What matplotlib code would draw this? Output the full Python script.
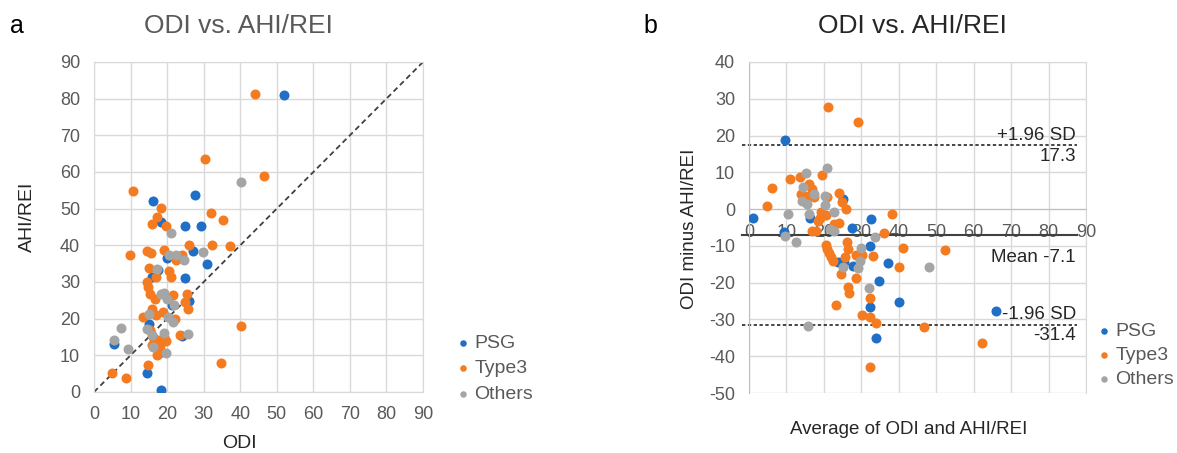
import matplotlib

matplotlib.use("Agg")

import matplotlib.pyplot as plt

plt.rcParams["font.family"] = ["Liberation Sans", "DejaVu Sans"]
plt.rcParams["axes.unicode_minus"] = False

BLUE = "#1f6fc6"
ORANGE = "#f47b20"
GRAY = "#a5a5a5"
GRID = "#d9d9d9"
TICK = "#595959"

# panel a: ODI (x) vs AHI/REI (y)
psg_odi = [51.9, 27.5, 16.2, 18.4, 24.9, 29.4, 27.0, 30.8, 20.1, 24.9, 15.8, 17.6,
           26.1, 21.3, 15.0, 24.0, 5.6, 14.6, 18.4, 17.6]
psg_ahi = [81.1, 53.7, 52.1, 46.4, 45.2, 45.2, 38.5, 35.0, 36.5, 31.1, 31.5, 33.2,
           24.8, 23.6, 18.5, 15.2, 13.2, 5.2, 0.6, 10.3]
type3_odi = [44.0, 30.3, 46.4, 10.8, 18.2, 17.2, 15.9, 19.7, 31.9, 35.4, 26.1, 32.2,
             37.3, 9.9, 14.4, 15.6, 19.2, 22.4, 24.0, 15.1, 16.9, 20.5, 21.2, 14.6,
             14.9, 15.3, 16.7, 21.5, 25.4, 25.0, 25.8, 15.8, 17.0, 18.8, 13.3, 22.1,
             40.1, 15.4, 23.5, 16.2, 17.6, 19.7, 15.9, 18.1, 17.2, 14.7, 34.8, 5.0,
             8.7, 19.2, 18.6]
type3_ahi = [81.4, 63.6, 58.8, 54.7, 50.3, 47.7, 45.8, 45.3, 48.9, 47.0, 40.2, 40.1,
             39.7, 37.3, 38.5, 38.0, 38.8, 35.9, 37.3, 33.9, 31.4, 33.0, 31.4, 30.0,
             28.6, 26.8, 25.5, 26.5, 26.8, 24.5, 22.7, 22.7, 21.1, 21.7, 20.5, 19.9,
             17.9, 17.0, 15.6, 15.0, 14.1, 13.9, 12.7, 11.8, 10.0, 7.4, 8.0, 5.2,
             3.9, 15.0, 13.6]
other_odi = [40.2, 21.0, 29.7, 20.4, 22.4, 24.5, 17.2, 18.3, 19.2, 20.1, 21.9, 15.1,
             20.3, 21.5, 14.4, 7.3, 15.8, 19.2, 25.8, 5.6, 9.2, 16.2, 19.7]
other_ahi = [57.3, 43.5, 38.2, 37.5, 37.5, 35.9, 33.5, 26.8, 27.0, 25.5, 23.6, 21.4,
             20.5, 19.1, 17.3, 17.5, 15.5, 16.1, 15.9, 14.1, 11.8, 12.3, 10.7]

# panel b: Bland-Altman, average (x) vs difference (y)
psg_avg = [9.6, 1.2, 9.3, 16.4, 25.1, 32.7, 27.6, 32.4, 25.3, 23.7, 27.8, 37.0,
           34.8, 32.4, 40.1, 33.9, 66.0]
psg_diff = [18.7, -2.3, -6.1, -2.3, 2.7, -2.7, -5.0, -10.1, -14.4, -14.4, -15.5, -14.7,
            -19.6, -26.7, -25.3, -35.0, -27.7]
type3_avg = [21.2, 29.0, 4.9, 6.1, 10.9, 13.5, 19.6, 14.0, 16.0, 16.7, 17.3, 15.8,
             20.7, 24.0, 24.9, 25.8, 19.3, 20.5, 18.9, 18.3, 16.7, 18.0, 24.1, 22.6,
             36.1, 38.2, 20.5, 20.9, 21.4, 21.8, 22.4, 26.2, 26.5, 28.7, 30.2, 33.0,
             41.2, 52.3, 40.1, 24.7, 28.5, 26.5, 26.6, 23.2, 32.4, 30.3, 32.3, 34.0,
             46.7, 62.3, 32.4, 25.6]
type3_diff = [27.8, 23.7, 0.9, 5.7, 8.1, 8.8, 9.2, 4.1, 6.8, 5.4, 3.2, 3.6,
              3.2, 4.3, 1.8, 0.0, -0.9, -1.5, -2.3, -3.3, -5.9, -5.9, -3.8, -4.1,
              -6.6, -1.2, -9.7, -10.8, -11.9, -13.1, -14.0, -9.0, -10.8, -12.5, -12.5, -12.8,
              -10.6, -11.0, -15.8, -17.6, -18.6, -21.2, -22.8, -26.2, -24.2, -28.9, -29.3, -30.9,
              -32.0, -36.3, -42.9, -13.1]
other_avg = [20.9, 15.2, 14.3, 14.2, 15.5, 17.3, 20.2, 20.2, 22.6, 10.4, 16.0, 22.6,
             21.6, 9.5, 12.5, 33.6, 30.0, 29.6, 29.0, 25.1, 48.1, 32.1, 15.8]
other_diff = [11.1, 9.7, 5.9, 2.3, 1.5, 4.1, 3.6, 1.1, -0.9, -1.2, -1.4, -5.9,
              -5.4, -7.2, -9.0, -7.5, -10.6, -14.0, -16.1, -15.8, -15.8, -21.4, -31.9]

upper_loa = 17.3
mean_diff = -7.1
lower_loa = -31.4

W, H = 1177, 453


def fx(px):
    return px / W


def fy(py):
    return 1 - py / H


def style_axes(ax):
    ax.set_xticks(range(0, 91, 10))
    ax.grid(True, color=GRID, lw=1)
    ax.set_axisbelow(True)
    for s in ax.spines.values():
        s.set_color(GRID)
    ax.tick_params(length=0, labelsize=13, labelcolor=TICK, pad=10)


fig = plt.figure(figsize=(W / 100, H / 100), dpi=100)

# ---- panel a
ax1 = fig.add_axes([fx(94), fy(392), fx(423 - 94), (392 - 62) / H])
style_axes(ax1)
ax1.set_xlim(0, 90)
ax1.set_ylim(0, 90)
ax1.set_yticks(range(0, 91, 10))
ax1.plot([0, 90], [0, 90], color="#404040", lw=1.3, ls=(0, (3, 2)), zorder=1)
ax1.scatter(psg_odi, psg_ahi, s=52, color=BLUE, lw=0, label="PSG", zorder=3)
ax1.scatter(type3_odi, type3_ahi, s=52, color=ORANGE, lw=0, label="Type3", zorder=3)
ax1.scatter(other_odi, other_ahi, s=52, color=GRAY, lw=0, label="Others", zorder=3)
ax1.legend(loc="upper left", bbox_to_anchor=(fx(456), fy(334)), bbox_transform=fig.transFigure,
           frameon=False, fontsize=14, labelcolor=TICK, handlelength=0.7, handletextpad=0.25,
           labelspacing=0.42, borderpad=0, borderaxespad=0, markerscale=0.65)

fig.text(fx(238), fy(33), "ODI vs. AHI/REI", fontsize=19, color=TICK, ha="center", va="baseline")
fig.text(fx(10), fy(33), "a", fontsize=18, color="black", ha="left", va="baseline")
fig.text(fx(239), fy(443), "ODI", fontsize=14, color="#262626", ha="center", va="center")
fig.text(fx(27), fy(217), "AHI/REI", fontsize=14, color="#262626", ha="center", va="center",
         rotation=90)

# ---- panel b
ax2 = fig.add_axes([fx(749), fy(393), fx(1086 - 749), (393 - 62) / H])
style_axes(ax2)
ax2.set_xlim(0, 90)
ax2.set_ylim(-50, 40)
ax2.set_yticks(range(-50, 41, 10))
ax2.spines["bottom"].set_position(("data", 0))
ax2.spines["bottom"].set_color("#bfbfbf")
ax2.spines["left"].set_color("#bfbfbf")
ax2.tick_params(axis="x", pad=11)

ax2.scatter(psg_avg, psg_diff, s=52, color=BLUE, lw=0, label="PSG", zorder=3)
ax2.scatter(type3_avg, type3_diff, s=52, color=ORANGE, lw=0, label="Type3", zorder=3)
ax2.scatter(other_avg, other_diff, s=52, color=GRAY, lw=0, label="Others", zorder=3)

x_line = [-2, 87.5]
ax2.plot(x_line, [upper_loa, upper_loa], color="#262626", lw=1.2, ls=(0, (2, 1.5)),
         clip_on=False, zorder=2)
ax2.plot(x_line, [lower_loa, lower_loa], color="#262626", lw=1.2, ls=(0, (2, 1.5)),
         clip_on=False, zorder=2)
ax2.plot(x_line, [mean_diff, mean_diff], color="#404040", lw=1.5, clip_on=False, zorder=2)

txt = dict(fontsize=13.5, color="#262626", ha="right", textcoords="offset points")
ax2.annotate("+1.96 SD", xy=(87.3, upper_loa), xytext=(0, 1), va="bottom", **txt)
ax2.annotate(f"{upper_loa}", xy=(87.3, upper_loa), xytext=(0, -2), va="top", **txt)
ax2.annotate(f"Mean {mean_diff}", xy=(87.3, mean_diff), xytext=(0, -10), va="top", **txt)
ax2.annotate("-1.96 SD", xy=(87.3, lower_loa), xytext=(0, 1), va="bottom", **txt)
ax2.annotate(f"{lower_loa}", xy=(87.3, lower_loa), xytext=(0, -2), va="top", **txt)

ax2.legend(loc="upper left", bbox_to_anchor=(fx(1097), fy(322)), bbox_transform=fig.transFigure,
           frameon=False, fontsize=14, labelcolor=TICK, handlelength=0.7, handletextpad=0.25,
           labelspacing=0.33, borderpad=0, borderaxespad=0, markerscale=0.65)

fig.text(fx(912), fy(33), "ODI vs. AHI/REI", fontsize=19, color="#262626", ha="center",
         va="baseline")
fig.text(fx(643), fy(33), "b", fontsize=18, color="black", ha="left", va="baseline")
fig.text(fx(909), fy(430), "Average of ODI and AHI/REI", fontsize=13.5, color="#262626",
         ha="center", va="center")
fig.text(fx(690), fy(229), "ODI minus AHI/REI", fontsize=13.5, color="#262626", ha="center",
         va="center", rotation=90)

fig.savefig("out.png", dpi=100)
